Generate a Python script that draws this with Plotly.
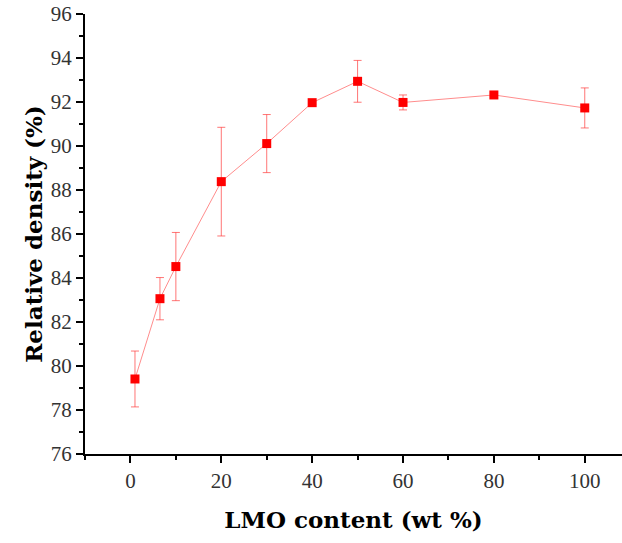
import plotly.graph_objects as go

# LMO content (wt %) and measured relative density (%) with standard deviations
lmo_content = [1, 6.5, 10, 20, 30, 40, 50, 60, 80, 100]
relative_density = [79.41, 83.06, 84.52, 88.38, 90.11, 91.97, 92.94, 91.98, 92.32, 91.73]
density_error = [1.27, 0.96, 1.55, 2.47, 1.32, 0.08, 0.95, 0.34, 0.08, 0.91]

x_tick_values = [0, 20, 40, 60, 80, 100]
y_tick_values = [76, 78, 80, 82, 84, 86, 88, 90, 92, 94, 96]

TICK_FONT = "Liberation Serif"
TITLE_FONT = "DejaVu Serif"

fig = go.Figure()
fig.add_trace(go.Scatter(
    x=lmo_content,
    y=relative_density,
    mode="lines+markers",
    line=dict(color="rgba(255,0,0,0.45)", width=1),
    marker=dict(symbol="square", size=9, color="#ff0000",
                line=dict(width=0)),
    error_y=dict(type="data", array=density_error, visible=True,
                 color="rgba(255,60,60,0.7)", thickness=1, width=4),
    showlegend=False,
))

axis_common = dict(
    showline=True, linecolor="black", linewidth=2,
    ticks="outside", ticklen=7, tickwidth=1.5, tickcolor="black",
    showgrid=False, zeroline=False, mirror=False,
    tickfont=dict(family=TICK_FONT, size=21, color="#333333"),
)
minor_common = dict(ticks="outside", ticklen=4, tickwidth=1.5, tickcolor="black")

fig.update_xaxes(
    range=[-10, 108.2], tickvals=x_tick_values,
    minor=dict(dtick=10, tick0=0, **minor_common),
    title=dict(text="<b>LMO content (wt %)</b>",
               font=dict(family=TITLE_FONT, size=23, color="black"), standoff=20),
    **axis_common,
)
fig.update_yaxes(
    range=[76, 96], tickvals=y_tick_values,
    minor=dict(dtick=1, tick0=76, **minor_common),
    title=dict(text="<b>Relative density (%)</b>",
               font=dict(family=TITLE_FONT, size=23, color="black"), standoff=2),
    **axis_common,
)

fig.update_layout(
    width=622, height=543,
    margin=dict(l=85, r=0, t=14, b=89),
    paper_bgcolor="white", plot_bgcolor="white",
)

fig.write_html("out.html")
